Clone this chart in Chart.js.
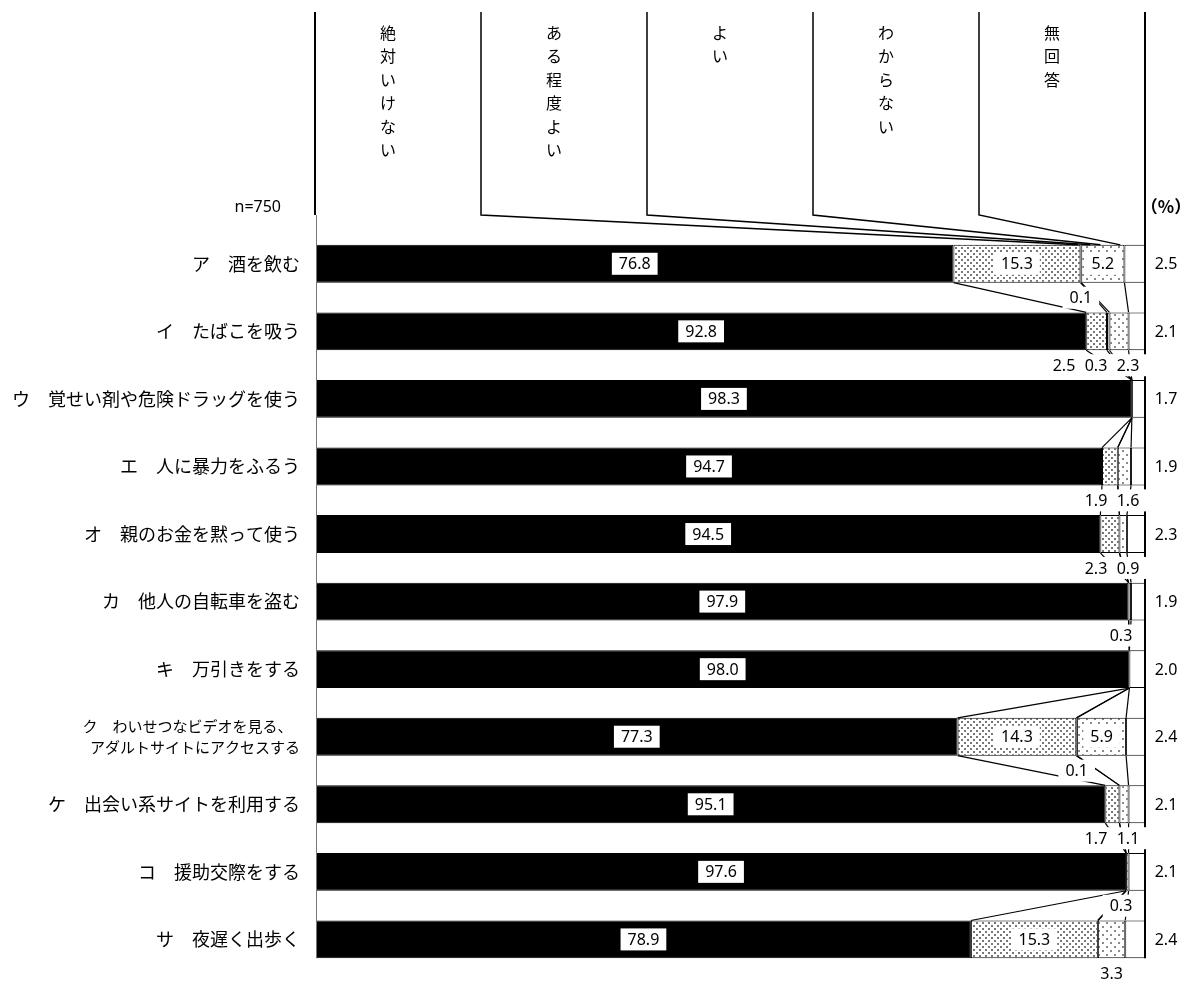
<!DOCTYPE html>
<html lang="ja">
<head>
<meta charset="utf-8">
<title>非行行為に対する意識</title>
<script src="https://cdn.jsdelivr.net/npm/chart.js@4.4.1/dist/chart.umd.min.js"></script>
<style>
  html, body { margin: 0; padding: 0; background: #fff; }
  #wrap { position: relative; width: 1190px; height: 992px; }
</style>
</head>
<body>
<div id="wrap"><canvas id="chart"></canvas></div>
<script>
// rows (top to bottom)
var CATEGORIES = [
  "ア　酒を飲む",
  "イ　たばこを吸う",
  "ウ　覚せい剤や危険ドラッグを使う",
  "エ　人に暴力をふるう",
  "オ　親のお金を黙って使う",
  "カ　他人の自転車を盗む",
  "キ　万引きをする",
  ["ク　わいせつなビデオを見る、　", "アダルトサイトにアクセスする"],
  "ケ　出会い系サイトを利用する",
  "コ　援助交際をする",
  "サ　夜遅く出歩く"
];
var SERIES_NAMES = ["絶対いけない", "ある程度よい", "よい", "わからない", "無回答"];

// percentages, one per row
var ZETTAI    = [76.8, 92.8, 98.3, 94.7, 94.5, 97.9, 98.0, 77.3, 95.1, 97.6, 78.9];
var ARU_TEIDO = [15.3,  2.5,  0,    1.9,  2.3,  0,    0,   14.3,  1.7,  0,   15.3];
var YOI       = [ 0.1,  0.3,  0,    0,    0,    0,    0,    0.1,  0,    0,    0  ];
var WAKARANAI = [ 5.2,  2.3,  0,    1.6,  0.9,  0.3,  0,    5.9,  1.1,  0.3,  3.3];
var MUKAITO   = [ 2.5,  2.1,  1.7,  1.9,  2.3,  1.9,  2.0,  2.4,  2.1,  2.1,  2.4];

var SAMPLE_N = "n=750";
var UNIT = "（%）";
// where the header leader lines land on the first row (percent axis)
var HEADER_TARGETS = [null, 91.8, 93.3, 94.5, 96.9];

var NUM_FONT = '16px "Noto Sans", "DejaVu Sans", sans-serif';
var JP_FONT = '"Noto Sans CJK JP", "Noto Sans", sans-serif';

function dotPattern(size, dots, color) {
  var c = document.createElement("canvas");
  c.width = size;
  c.height = size;
  var g = c.getContext("2d");
  g.fillStyle = "#fff";
  g.fillRect(0, 0, size, size);
  g.fillStyle = color;
  dots.forEach(function (d) {
    g.fillRect(d[0], d[1], 2, 2);
  });
  return g.createPattern(c, "repeat");
}

var patDense = dotPattern(6, [[1, 1], [4, 4]], "#777");
var patYoi = dotPattern(4, [[1, 1]], "#555");
var patSparse = dotPattern(8, [[2, 2], [6, 6]], "#888");

var decorPlugin = {
  id: "decor",
  afterDatasetsDraw: function (chart) {
    var ctx = chart.ctx;
    var area = chart.chartArea;
    var xs = chart.scales.x;
    var n = CATEGORIES.length;
    var metas = [0, 1, 2, 3, 4].map(function (i) {
      return chart.getDatasetMeta(i);
    });
    var values = chart.data.datasets.map(function (d) {
      return d.data;
    });
    function bar(k, i) {
      return metas[k].data[i].getProps(["x", "base", "y", "height"], true);
    }

    ctx.save();

    // series lines between neighbouring bars
    ctx.strokeStyle = "#000";
    ctx.lineWidth = 1.2;
    for (var i = 0; i < n - 1; i++) {
      for (var k = 0; k < 4; k++) {
        var a = bar(k, i), b = bar(k, i + 1);
        ctx.beginPath();
        ctx.moveTo(a.x, a.y + a.height / 2);
        ctx.lineTo(b.x, b.y - b.height / 2);
        ctx.stroke();
      }
    }

    // header boxes
    var first = bar(0, 0);
    var last = bar(0, n - 1);
    var firstTop = first.y - first.height / 2;
    var lastBottom = last.y + last.height / 2;
    var colW = (area.right - area.left) / 5;
    var topY = 12, bendY = 215;

    ctx.strokeStyle = "#777";
    ctx.lineWidth = 1;
    ctx.beginPath();
    ctx.moveTo(area.left + 0.5, bendY);
    ctx.lineTo(area.left + 0.5, lastBottom);
    ctx.stroke();

    ctx.strokeStyle = "#000";
    ctx.lineWidth = 2;
    for (var c = 0; c <= 5; c++) {
      var lx = area.left - 1 + c * colW;
      ctx.beginPath();
      ctx.moveTo(lx, topY);
      if (c === 0) {
        ctx.lineTo(lx, bendY);
      } else if (c === 5) {
        ctx.lineTo(lx, lastBottom);
      } else {
        ctx.lineTo(lx, bendY);
        ctx.lineWidth = 1.5;
        ctx.lineTo(xs.getPixelForValue(HEADER_TARGETS[c]), firstTop);
      }
      ctx.stroke();
      ctx.lineWidth = 2;
    }

    ctx.fillStyle = "#000";
    ctx.font = "16px " + JP_FONT;
    ctx.textAlign = "center";
    ctx.textBaseline = "middle";
    SERIES_NAMES.forEach(function (name, s) {
      var tx = area.left - 2 + s * colW + 74;
      Array.from(name).forEach(function (ch, j) {
        ctx.fillText(ch, tx, 33 + j * 23.4);
      });
    });

    ctx.font = '16px "Noto Sans", sans-serif';
    ctx.textAlign = "right";
    ctx.fillText(SAMPLE_N, 281, 207);
    ctx.textAlign = "center";
    ctx.font = "bold 17px " + JP_FONT;
    ctx.fillText(UNIT, area.right + 20, 207);

    // value labels (white boxes hide the series lines behind them)
    function boxLabel(text, x, y) {
      ctx.font = NUM_FONT;
      var w = ctx.measureText(text).width + 14;
      var h = 22;
      ctx.fillStyle = "#fff";
      ctx.fillRect(x - w / 2, y - h / 2, w, h);
      ctx.fillStyle = "#000";
      ctx.textAlign = "center";
      ctx.textBaseline = "middle";
      ctx.fillText(text, x, y + 1);
    }

    for (var r = 0; r < n; r++) {
      var small = [];
      for (var s = 0; s < 4; s++) {
        var v = values[s][r];
        if (!v) continue;
        var el = bar(s, r);
        var width = el.x - el.base;
        var cx = (el.x + el.base) / 2;
        if (s === 0 || width >= 35) {
          boxLabel(v.toFixed(1), cx, el.y);
        } else {
          small.push({ text: v.toFixed(1), x: cx, y: el.y + el.height / 2 + 15 });
        }
      }
      if (small.length === 1) {
        small[0].x = Math.min(small[0].x, 1121);
      } else if (small.length > 1) {
        for (var q = small.length - 1, px = 1128; q >= 0; q--, px -= 32) {
          small[q].x = px;
        }
      }
      small.forEach(function (l) {
        boxLabel(l.text, l.x, l.y);
      });

      var m = bar(4, r);
      ctx.font = NUM_FONT;
      ctx.fillStyle = "#000";
      ctx.textAlign = "center";
      ctx.fillText(values[4][r].toFixed(1), area.right + 20, m.y + 1);
    }

    ctx.restore();
  }
};

var common = {
  borderColor: "#000",
  borderWidth: 1,
  borderSkipped: false,
  barPercentage: 0.56,
  categoryPercentage: 1
};

new Chart(document.getElementById("chart"), {
  type: "bar",
  data: {
    labels: CATEGORIES,
    datasets: [
      Object.assign({ label: SERIES_NAMES[0], data: ZETTAI, backgroundColor: "#000" }, common),
      Object.assign({ label: SERIES_NAMES[1], data: ARU_TEIDO, backgroundColor: patDense }, common),
      Object.assign({ label: SERIES_NAMES[2], data: YOI, backgroundColor: patYoi }, common),
      Object.assign({ label: SERIES_NAMES[3], data: WAKARANAI, backgroundColor: patSparse }, common),
      Object.assign({ label: SERIES_NAMES[4], data: MUKAITO, backgroundColor: "#fff" }, common)
    ]
  },
  options: {
    indexAxis: "y",
    responsive: true,
    maintainAspectRatio: false,
    animation: false,
    layout: { padding: { top: 230, right: 44, bottom: 7, left: 0 } },
    plugins: {
      legend: { display: false },
      tooltip: { enabled: false }
    },
    scales: {
      x: {
        stacked: true,
        min: 0,
        max: 100,
        display: false
      },
      y: {
        stacked: true,
        grid: { display: false },
        border: { display: false },
        afterFit: function (scale) {
          scale.width = 316;
        },
        ticks: {
          padding: 8,
          color: "#000",
          font: function (c) {
            return c.index === 7
              ? { family: JP_FONT, size: 15, lineHeight: 1.4 }
              : { family: JP_FONT, size: 18 };
          }
        }
      }
    }
  },
  plugins: [decorPlugin]
});
</script>
</body>
</html>
